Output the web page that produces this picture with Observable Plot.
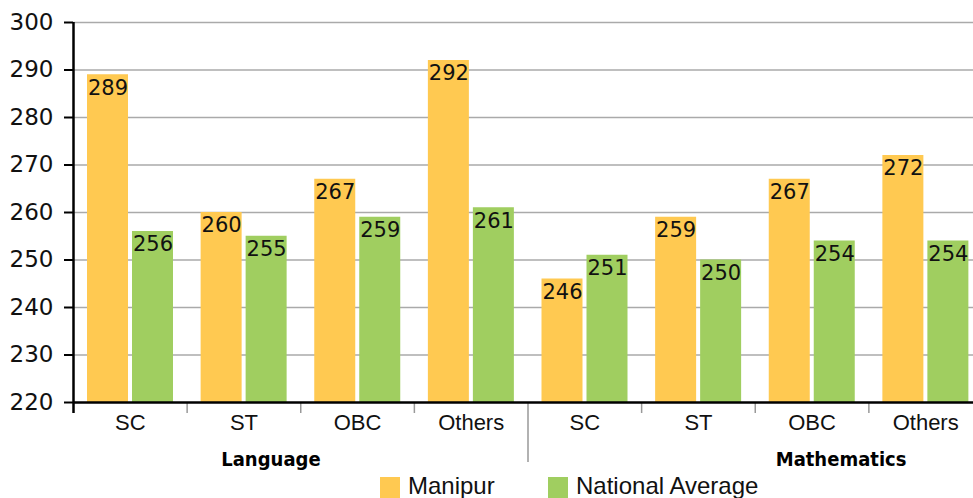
<!DOCTYPE html>
<html>
<head>
<meta charset="utf-8">
<script src="https://cdn.jsdelivr.net/npm/d3@7"></script>
<script src="https://cdn.jsdelivr.net/npm/@observablehq/plot@0.6"></script>
<style>
  html, body { margin: 0; padding: 0; background: #fff; }
  #wrap { position: relative; width: 973px; height: 498px; overflow: hidden; font-family: "Liberation Sans", Arial, sans-serif; }
  #legend { position: absolute; left: 0; top: 470px; width: 973px; height: 28px; }
  .item { position: absolute; top: 4px; height: 24px; line-height: 24px; display: flex; align-items: flex-start; font-size: 24px; color: #111; }
  .sw { width: 20px; height: 21px; margin-top: 3px; margin-right: 8px; }
</style>
</head>
<body>
<div id="wrap">
  <div id="chart"></div>
  <div id="legend"></div>
</div>
<script>
const groups = ["Language", "Language", "Language", "Language", "Mathematics", "Mathematics", "Mathematics", "Mathematics"];
const categories = ["SC", "ST", "OBC", "Others", "SC", "ST", "OBC", "Others"];
const manipur = [289, 260, 267, 292, 246, 259, 267, 272];
const national = [256, 255, 259, 261, 251, 250, 254, 254];
const yTicks = [220, 230, 240, 250, 260, 270, 280, 290, 300];
const seriesNames = ["Manipur", "National Average"];
const colors = ["#FFC951", "#A0CE60"];

const keys = categories.map((c, i) => groups[i] + "|" + c);
const rows = keys.map((k, i) => ({key: k, group: groups[i], cat: categories[i], manipur: manipur[i], national: national[i]}));
const yDomain = [yTicks[0], yTicks[yTicks.length - 1]];
const base = yDomain[0];

const width = 973, height = 470;
const x0 = 73, x1 = 982;
const step = (x1 - x0) / keys.length;
const barW = 41, padL = 14, gap = 4;

const groupFirst = keys.filter((k, i) => i > 0 && groups[i] !== groups[i - 1]);
const minorBounds = keys.filter((k, i) => i > 0 && groups[i] === groups[i - 1]);
const numFont = "'DejaVu Sans', sans-serif";
const boldFont = "'Liberation Sans Narrow', 'DejaVu Sans Condensed', sans-serif";

const plot = Plot.plot({
  width, height,
  marginLeft: x0, marginRight: 0, marginTop: 22, marginBottom: 68,
  style: {fontFamily: "'Liberation Sans', Arial, sans-serif", background: "#fff", overflow: "visible"},
  x: {type: "band", domain: keys, range: [x0, x1], padding: 0, round: false},
  y: {domain: yDomain},
  marks: [
    Plot.gridY(yTicks.slice(1), {stroke: "#aaaaaa", strokeOpacity: 1, strokeWidth: 1.5}),
    Plot.barY(rows, {x: "key", y1: () => base, y2: "manipur", fill: colors[0], insetLeft: padL, insetRight: step - padL - barW}),
    Plot.barY(rows, {x: "key", y1: () => base, y2: "national", fill: colors[1], insetLeft: padL + barW + gap, insetRight: step - padL - 2 * barW - gap}),
    Plot.text(rows, {x: "key", y: "manipur", text: d => String(d.manipur), dx: padL + barW / 2 - step / 2, dy: 5, lineAnchor: "top", fontSize: 21, fontFamily: numFont, fill: "#111"}),
    Plot.text(rows, {x: "key", y: "national", text: d => String(d.national), dx: padL + barW + gap + barW / 2 - step / 2, dy: 5, lineAnchor: "top", fontSize: 21, fontFamily: numFont, fill: "#111"}),
    Plot.axisY({ticks: yTicks, tickSize: 9, tickPadding: 11, fontSize: 23, fontFamily: numFont, stroke: "#000", strokeWidth: 2, label: null, color: "#111"}),
    Plot.axisX({tickSize: 0, tickPadding: 12, fontSize: 22, tickFormat: k => k.split("|")[1], label: null, color: "#111"}),
    Plot.ruleX(minorBounds, {x: d => d, dx: -step / 2, y1: () => base, y2: () => base, insetBottom: -11, stroke: "#999", strokeWidth: 1.5}),
    Plot.ruleX(groupFirst, {x: d => d, dx: -step / 2, y1: () => base, y2: () => base, insetBottom: -60, stroke: "#999", strokeWidth: 1.5}),
    Plot.ruleY([base], {stroke: "#000", strokeWidth: 2.5}),
    Plot.ruleX([keys[0]], {x: d => d, dx: -step / 2, y1: () => yDomain[1], y2: () => base, insetBottom: -11, stroke: "#000", strokeWidth: 2.5}),
    Plot.text(["Language"], {x: () => "Language|ST", y: () => base, dx: 27, dy: 57, text: d => d, fontSize: 20, fontWeight: "bold", fontFamily: boldFont, fill: "#000"}),
    Plot.text(["Mathematics"], {x: () => "Mathematics|OBC", y: () => base, dx: 29, dy: 57, text: d => d, fontSize: 20, fontWeight: "bold", fontFamily: boldFont, fill: "#000"})
  ]
});
document.getElementById("chart").appendChild(plot);

const legend = document.getElementById("legend");
const legendLeft = [380, 548];
seriesNames.forEach((name, i) => {
  const it = document.createElement("div");
  it.className = "item";
  it.style.left = legendLeft[i] + "px";
  const sw = document.createElement("div");
  sw.className = "sw";
  sw.style.background = colors[i];
  const t = document.createElement("span");
  t.textContent = name;
  it.appendChild(sw); it.appendChild(t);
  legend.appendChild(it);
});
</script>
</body>
</html>
